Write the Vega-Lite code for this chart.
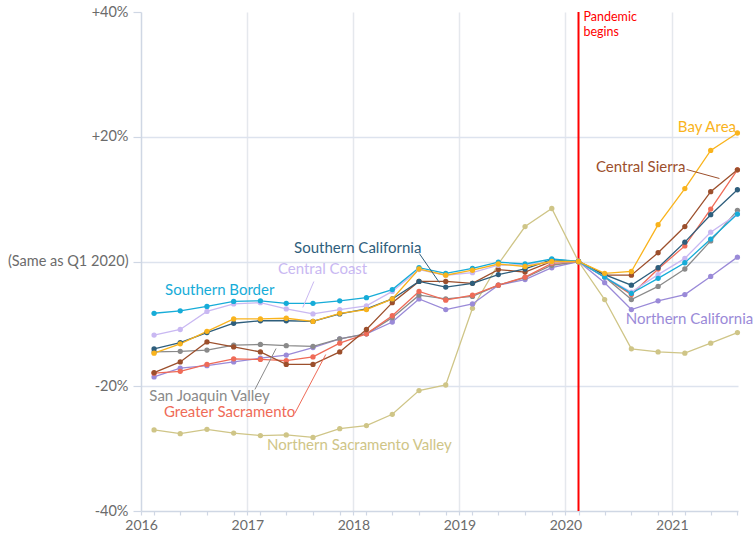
{
  "$schema": "https://vega.github.io/schema/vega-lite/v6.json",
  "width": 597,
  "height": 499,
  "autosize": {"type": "none"},
  "padding": {"left": 141, "top": 12, "right": 17, "bottom": 26},
  "background": "white",
  "config": {"font": "Lato", "view": {"stroke": null}},
  "datasets": {
    "series": [
      {"region":"Northern Sacramento Valley","date":"2016-02-15","value":-27.0},
      {"region":"Northern Sacramento Valley","date":"2016-05-15","value":-27.6},
      {"region":"Northern Sacramento Valley","date":"2016-08-15","value":-26.9},
      {"region":"Northern Sacramento Valley","date":"2016-11-15","value":-27.5},
      {"region":"Northern Sacramento Valley","date":"2017-02-15","value":-27.9},
      {"region":"Northern Sacramento Valley","date":"2017-05-15","value":-27.8},
      {"region":"Northern Sacramento Valley","date":"2017-08-15","value":-28.2},
      {"region":"Northern Sacramento Valley","date":"2017-11-15","value":-26.8},
      {"region":"Northern Sacramento Valley","date":"2018-02-15","value":-26.3},
      {"region":"Northern Sacramento Valley","date":"2018-05-15","value":-24.5},
      {"region":"Northern Sacramento Valley","date":"2018-08-15","value":-20.7},
      {"region":"Northern Sacramento Valley","date":"2018-11-15","value":-19.8},
      {"region":"Northern Sacramento Valley","date":"2019-02-15","value":-7.5},
      {"region":"Northern Sacramento Valley","date":"2019-05-15","value":-0.4},
      {"region":"Northern Sacramento Valley","date":"2019-08-15","value":5.6},
      {"region":"Northern Sacramento Valley","date":"2019-11-15","value":8.5},
      {"region":"Northern Sacramento Valley","date":"2020-02-15","value":0},
      {"region":"Northern Sacramento Valley","date":"2020-05-15","value":-6.1},
      {"region":"Northern Sacramento Valley","date":"2020-08-15","value":-14.0},
      {"region":"Northern Sacramento Valley","date":"2020-11-15","value":-14.5},
      {"region":"Northern Sacramento Valley","date":"2021-02-15","value":-14.7},
      {"region":"Northern Sacramento Valley","date":"2021-05-15","value":-13.1},
      {"region":"Northern Sacramento Valley","date":"2021-08-15","value":-11.4},

      {"region":"Northern California","date":"2016-02-15","value":-18.5},
      {"region":"Northern California","date":"2016-05-15","value":-17.1},
      {"region":"Northern California","date":"2016-08-15","value":-16.7},
      {"region":"Northern California","date":"2016-11-15","value":-16.1},
      {"region":"Northern California","date":"2017-02-15","value":-15.5},
      {"region":"Northern California","date":"2017-05-15","value":-15.0},
      {"region":"Northern California","date":"2017-08-15","value":-13.8},
      {"region":"Northern California","date":"2017-11-15","value":-12.4},
      {"region":"Northern California","date":"2018-02-15","value":-11.6},
      {"region":"Northern California","date":"2018-05-15","value":-9.7},
      {"region":"Northern California","date":"2018-08-15","value":-6.0},
      {"region":"Northern California","date":"2018-11-15","value":-7.7},
      {"region":"Northern California","date":"2019-02-15","value":-6.8},
      {"region":"Northern California","date":"2019-05-15","value":-3.8},
      {"region":"Northern California","date":"2019-08-15","value":-2.9},
      {"region":"Northern California","date":"2019-11-15","value":-1.0},
      {"region":"Northern California","date":"2020-02-15","value":0},
      {"region":"Northern California","date":"2020-05-15","value":-3.4},
      {"region":"Northern California","date":"2020-08-15","value":-7.7},
      {"region":"Northern California","date":"2020-11-15","value":-6.3},
      {"region":"Northern California","date":"2021-02-15","value":-5.3},
      {"region":"Northern California","date":"2021-05-15","value":-2.4},
      {"region":"Northern California","date":"2021-08-15","value":0.7},

      {"region":"San Joaquin Valley","date":"2016-02-15","value":-14.5},
      {"region":"San Joaquin Valley","date":"2016-05-15","value":-14.4},
      {"region":"San Joaquin Valley","date":"2016-08-15","value":-14.2},
      {"region":"San Joaquin Valley","date":"2016-11-15","value":-13.4},
      {"region":"San Joaquin Valley","date":"2017-02-15","value":-13.3},
      {"region":"San Joaquin Valley","date":"2017-05-15","value":-13.5},
      {"region":"San Joaquin Valley","date":"2017-08-15","value":-13.6},
      {"region":"San Joaquin Valley","date":"2017-11-15","value":-12.4},
      {"region":"San Joaquin Valley","date":"2018-02-15","value":-11.6},
      {"region":"San Joaquin Valley","date":"2018-05-15","value":-9.0},
      {"region":"San Joaquin Valley","date":"2018-08-15","value":-5.4},
      {"region":"San Joaquin Valley","date":"2018-11-15","value":-6.0},
      {"region":"San Joaquin Valley","date":"2019-02-15","value":-5.6},
      {"region":"San Joaquin Valley","date":"2019-05-15","value":-3.8},
      {"region":"San Joaquin Valley","date":"2019-08-15","value":-2.6},
      {"region":"San Joaquin Valley","date":"2019-11-15","value":-0.6},
      {"region":"San Joaquin Valley","date":"2020-02-15","value":0},
      {"region":"San Joaquin Valley","date":"2020-05-15","value":-2.5},
      {"region":"San Joaquin Valley","date":"2020-08-15","value":-6.1},
      {"region":"San Joaquin Valley","date":"2020-11-15","value":-4.0},
      {"region":"San Joaquin Valley","date":"2021-02-15","value":-1.2},
      {"region":"San Joaquin Valley","date":"2021-05-15","value":3.3},
      {"region":"San Joaquin Valley","date":"2021-08-15","value":8.2},

      {"region":"Greater Sacramento","date":"2016-02-15","value":-17.9},
      {"region":"Greater Sacramento","date":"2016-05-15","value":-17.6},
      {"region":"Greater Sacramento","date":"2016-08-15","value":-16.5},
      {"region":"Greater Sacramento","date":"2016-11-15","value":-15.6},
      {"region":"Greater Sacramento","date":"2017-02-15","value":-15.7},
      {"region":"Greater Sacramento","date":"2017-05-15","value":-15.9},
      {"region":"Greater Sacramento","date":"2017-08-15","value":-15.3},
      {"region":"Greater Sacramento","date":"2017-11-15","value":-13.1},
      {"region":"Greater Sacramento","date":"2018-02-15","value":-11.6},
      {"region":"Greater Sacramento","date":"2018-05-15","value":-8.7},
      {"region":"Greater Sacramento","date":"2018-08-15","value":-4.8},
      {"region":"Greater Sacramento","date":"2018-11-15","value":-6.2},
      {"region":"Greater Sacramento","date":"2019-02-15","value":-5.4},
      {"region":"Greater Sacramento","date":"2019-05-15","value":-3.8},
      {"region":"Greater Sacramento","date":"2019-08-15","value":-2.5},
      {"region":"Greater Sacramento","date":"2019-11-15","value":-0.3},
      {"region":"Greater Sacramento","date":"2020-02-15","value":0},
      {"region":"Greater Sacramento","date":"2020-05-15","value":-2.5},
      {"region":"Greater Sacramento","date":"2020-08-15","value":-5.3},
      {"region":"Greater Sacramento","date":"2020-11-15","value":-1.2},
      {"region":"Greater Sacramento","date":"2021-02-15","value":2.5},
      {"region":"Greater Sacramento","date":"2021-05-15","value":8.4},
      {"region":"Greater Sacramento","date":"2021-08-15","value":14.7},

      {"region":"Central Sierra","date":"2016-02-15","value":-17.8},
      {"region":"Central Sierra","date":"2016-05-15","value":-16.1},
      {"region":"Central Sierra","date":"2016-08-15","value":-12.9},
      {"region":"Central Sierra","date":"2016-11-15","value":-13.7},
      {"region":"Central Sierra","date":"2017-02-15","value":-14.5},
      {"region":"Central Sierra","date":"2017-05-15","value":-16.5},
      {"region":"Central Sierra","date":"2017-08-15","value":-16.5},
      {"region":"Central Sierra","date":"2017-11-15","value":-14.5},
      {"region":"Central Sierra","date":"2018-02-15","value":-10.9},
      {"region":"Central Sierra","date":"2018-05-15","value":-6.6},
      {"region":"Central Sierra","date":"2018-08-15","value":-3.2},
      {"region":"Central Sierra","date":"2018-11-15","value":-3.2},
      {"region":"Central Sierra","date":"2019-02-15","value":-3.5},
      {"region":"Central Sierra","date":"2019-05-15","value":-1.3},
      {"region":"Central Sierra","date":"2019-08-15","value":-1.7},
      {"region":"Central Sierra","date":"2019-11-15","value":0.0},
      {"region":"Central Sierra","date":"2020-02-15","value":0},
      {"region":"Central Sierra","date":"2020-05-15","value":-2.2},
      {"region":"Central Sierra","date":"2020-08-15","value":-2.2},
      {"region":"Central Sierra","date":"2020-11-15","value":1.4},
      {"region":"Central Sierra","date":"2021-02-15","value":5.6},
      {"region":"Central Sierra","date":"2021-05-15","value":11.2},
      {"region":"Central Sierra","date":"2021-08-15","value":14.7},

      {"region":"Southern California","date":"2016-02-15","value":-14.0},
      {"region":"Southern California","date":"2016-05-15","value":-13.0},
      {"region":"Southern California","date":"2016-08-15","value":-11.4},
      {"region":"Southern California","date":"2016-11-15","value":-9.9},
      {"region":"Southern California","date":"2017-02-15","value":-9.5},
      {"region":"Southern California","date":"2017-05-15","value":-9.5},
      {"region":"Southern California","date":"2017-08-15","value":-9.6},
      {"region":"Southern California","date":"2017-11-15","value":-8.4},
      {"region":"Southern California","date":"2018-02-15","value":-7.6},
      {"region":"Southern California","date":"2018-05-15","value":-6.0},
      {"region":"Southern California","date":"2018-08-15","value":-3.2},
      {"region":"Southern California","date":"2018-11-15","value":-4.1},
      {"region":"Southern California","date":"2019-02-15","value":-3.5},
      {"region":"Southern California","date":"2019-05-15","value":-2.1},
      {"region":"Southern California","date":"2019-08-15","value":-1.2},
      {"region":"Southern California","date":"2019-11-15","value":0.3},
      {"region":"Southern California","date":"2020-02-15","value":0},
      {"region":"Southern California","date":"2020-05-15","value":-2.1},
      {"region":"Southern California","date":"2020-08-15","value":-3.8},
      {"region":"Southern California","date":"2020-11-15","value":-1.0},
      {"region":"Southern California","date":"2021-02-15","value":3.1},
      {"region":"Southern California","date":"2021-05-15","value":7.5},
      {"region":"Southern California","date":"2021-08-15","value":11.5},

      {"region":"Central Coast","date":"2016-02-15","value":-11.8},
      {"region":"Central Coast","date":"2016-05-15","value":-10.9},
      {"region":"Central Coast","date":"2016-08-15","value":-8.0},
      {"region":"Central Coast","date":"2016-11-15","value":-6.8},
      {"region":"Central Coast","date":"2017-02-15","value":-6.6},
      {"region":"Central Coast","date":"2017-05-15","value":-7.6},
      {"region":"Central Coast","date":"2017-08-15","value":-8.4},
      {"region":"Central Coast","date":"2017-11-15","value":-7.7},
      {"region":"Central Coast","date":"2018-02-15","value":-7.1},
      {"region":"Central Coast","date":"2018-05-15","value":-4.8},
      {"region":"Central Coast","date":"2018-08-15","value":-1.3},
      {"region":"Central Coast","date":"2018-11-15","value":-2.2},
      {"region":"Central Coast","date":"2019-02-15","value":-1.8},
      {"region":"Central Coast","date":"2019-05-15","value":-0.6},
      {"region":"Central Coast","date":"2019-08-15","value":-0.5},
      {"region":"Central Coast","date":"2019-11-15","value":-0.1},
      {"region":"Central Coast","date":"2020-02-15","value":0},
      {"region":"Central Coast","date":"2020-05-15","value":-2.5},
      {"region":"Central Coast","date":"2020-08-15","value":-4.9},
      {"region":"Central Coast","date":"2020-11-15","value":-2.1},
      {"region":"Central Coast","date":"2021-02-15","value":0.5},
      {"region":"Central Coast","date":"2021-05-15","value":4.7},
      {"region":"Central Coast","date":"2021-08-15","value":7.6},

      {"region":"Southern Border","date":"2016-02-15","value":-8.3},
      {"region":"Southern Border","date":"2016-05-15","value":-7.9},
      {"region":"Southern Border","date":"2016-08-15","value":-7.2},
      {"region":"Southern Border","date":"2016-11-15","value":-6.4},
      {"region":"Southern Border","date":"2017-02-15","value":-6.3},
      {"region":"Southern Border","date":"2017-05-15","value":-6.7},
      {"region":"Southern Border","date":"2017-08-15","value":-6.7},
      {"region":"Southern Border","date":"2017-11-15","value":-6.3},
      {"region":"Southern Border","date":"2018-02-15","value":-5.8},
      {"region":"Southern Border","date":"2018-05-15","value":-4.5},
      {"region":"Southern Border","date":"2018-08-15","value":-1.0},
      {"region":"Southern Border","date":"2018-11-15","value":-1.9},
      {"region":"Southern Border","date":"2019-02-15","value":-1.1},
      {"region":"Southern Border","date":"2019-05-15","value":-0.1},
      {"region":"Southern Border","date":"2019-08-15","value":-0.4},
      {"region":"Southern Border","date":"2019-11-15","value":0.4},
      {"region":"Southern Border","date":"2020-02-15","value":0},
      {"region":"Southern Border","date":"2020-05-15","value":-2.5},
      {"region":"Southern Border","date":"2020-08-15","value":-5.1},
      {"region":"Southern Border","date":"2020-11-15","value":-2.7},
      {"region":"Southern Border","date":"2021-02-15","value":-0.2},
      {"region":"Southern Border","date":"2021-05-15","value":3.6},
      {"region":"Southern Border","date":"2021-08-15","value":7.6},

      {"region":"Bay Area","date":"2016-02-15","value":-14.7},
      {"region":"Bay Area","date":"2016-05-15","value":-13.2},
      {"region":"Bay Area","date":"2016-08-15","value":-11.2},
      {"region":"Bay Area","date":"2016-11-15","value":-9.2},
      {"region":"Bay Area","date":"2017-02-15","value":-9.2},
      {"region":"Bay Area","date":"2017-05-15","value":-9.1},
      {"region":"Bay Area","date":"2017-08-15","value":-9.6},
      {"region":"Bay Area","date":"2017-11-15","value":-8.3},
      {"region":"Bay Area","date":"2018-02-15","value":-7.7},
      {"region":"Bay Area","date":"2018-05-15","value":-6.0},
      {"region":"Bay Area","date":"2018-08-15","value":-1.2},
      {"region":"Bay Area","date":"2018-11-15","value":-2.2},
      {"region":"Bay Area","date":"2019-02-15","value":-1.4},
      {"region":"Bay Area","date":"2019-05-15","value":-0.4},
      {"region":"Bay Area","date":"2019-08-15","value":-0.8},
      {"region":"Bay Area","date":"2019-11-15","value":0.0},
      {"region":"Bay Area","date":"2020-02-15","value":0},
      {"region":"Bay Area","date":"2020-05-15","value":-1.9},
      {"region":"Bay Area","date":"2020-08-15","value":-1.6},
      {"region":"Bay Area","date":"2020-11-15","value":5.9},
      {"region":"Bay Area","date":"2021-02-15","value":11.7},
      {"region":"Bay Area","date":"2021-05-15","value":17.8},
      {"region":"Bay Area","date":"2021-08-15","value":20.6}
    ],
    "labels": [
      {"region":"Southern California","label":"Southern California","date":"2018-01-16","value":1.33},
      {"region":"Central Coast","label":"Central Coast","date":"2017-09-17","value":-1.97},
      {"region":"Southern Border","label":"Southern Border","date":"2016-09-28","value":-5.45},
      {"region":"San Joaquin Valley","label":"San Joaquin Valley","date":"2016-08-24","value":-22.4},
      {"region":"Greater Sacramento","label":"Greater Sacramento","date":"2016-11-01","value":-24.96},
      {"region":"Northern Sacramento Valley","label":"Northern Sacramento Valley","date":"2018-01-22","value":-30.3},
      {"region":"Bay Area","label":"Bay Area","date":"2021-05-02","value":20.84},
      {"region":"Central Sierra","label":"Central Sierra","date":"2020-09-16","value":14.32},
      {"region":"Northern California","label":"Northern California","date":"2021-03-03","value":-10.1}
    ],
    "leaders": [
      {"region":"Southern California","date":"2018-08-16","value":1.28,"date2":"2018-10-24","value2":-3.37},
      {"region":"Central Coast","date":"2017-08-18","value":-3.21,"date2":"2017-07-11","value2":-7.37},
      {"region":"San Joaquin Valley","date":"2017-01-27","value":-20.52,"date2":"2017-04-10","value2":-13.95},
      {"region":"Greater Sacramento","date":"2017-06-13","value":-24.37,"date2":"2017-09-28","value2":-14.91},
      {"region":"Central Sierra","date":"2021-02-21","value":14.75,"date2":"2021-06-14","value2":13.31}
    ],
    "events": [
      {"date":"2020-02-15","label":"Pandemic\nbegins","value":38.5}
    ]
  },
  "layer": [
    {
      "data": {"name": "events"},
      "mark": {"type": "rule", "color": "#ff0000", "strokeWidth": 2},
      "encoding": {
        "x": {
          "field": "date", "type": "temporal", "title": null,
          "scale": {"type": "utc", "domain": [{"year":2016,"month":1,"date":1,"utc":true},{"year":2021,"month":8,"date":17,"utc":true}]},
          "axis": {
            "title": null,
            "tickCount": 200,
            "values": [
              {"year":2016,"month":1,"date":1,"utc":true},{"year":2016,"month":2,"date":15,"utc":true},{"year":2016,"month":5,"date":15,"utc":true},{"year":2016,"month":8,"date":15,"utc":true},{"year":2016,"month":11,"date":15,"utc":true},
              {"year":2017,"month":1,"date":1,"utc":true},{"year":2017,"month":2,"date":15,"utc":true},{"year":2017,"month":5,"date":15,"utc":true},{"year":2017,"month":8,"date":15,"utc":true},{"year":2017,"month":11,"date":15,"utc":true},
              {"year":2018,"month":1,"date":1,"utc":true},{"year":2018,"month":2,"date":15,"utc":true},{"year":2018,"month":5,"date":15,"utc":true},{"year":2018,"month":8,"date":15,"utc":true},{"year":2018,"month":11,"date":15,"utc":true},
              {"year":2019,"month":1,"date":1,"utc":true},{"year":2019,"month":2,"date":15,"utc":true},{"year":2019,"month":5,"date":15,"utc":true},{"year":2019,"month":8,"date":15,"utc":true},{"year":2019,"month":11,"date":15,"utc":true},
              {"year":2020,"month":1,"date":1,"utc":true},{"year":2020,"month":2,"date":15,"utc":true},{"year":2020,"month":5,"date":15,"utc":true},{"year":2020,"month":8,"date":15,"utc":true},{"year":2020,"month":11,"date":15,"utc":true},
              {"year":2021,"month":1,"date":1,"utc":true},{"year":2021,"month":2,"date":15,"utc":true},{"year":2021,"month":5,"date":15,"utc":true},{"year":2021,"month":8,"date":15,"utc":true}
            ],
            "labelExpr": "utcdate(datum.value) == 1 ? utcFormat(datum.value, '%Y') : ''",
            "labelOverlap": false,
            "labelBound": false,
            "labelFlush": false,
            "labelFontSize": 14,
            "labelColor": "#6b6b6b",
            "labelPadding": 3,
            "tickSize": 4,
            "tickColor": "#cfd7e4",
            "tickWidth": 1.2,
            "domainColor": "#cfd7e4",
            "domainWidth": 1.5,
            "grid": true,
            "gridColor": "#e5e8ed",
            "gridWidth": 1.5,
            "gridOpacity": {"condition": {"test": "utcdate(datum.value) == 1 && utcyear(datum.value) > 2016", "value": 1}, "value": 0}
          }
        }
      }
    },
    {
      "data": {"name": "series"},
      "mark": {"type": "line", "strokeWidth": 1.3, "point": {"filled": true, "size": 28, "opacity": 1}},
      "encoding": {
        "x": {"field": "date", "type": "temporal", "title": null},
        "y": {
          "field": "value", "type": "quantitative", "title": null,
          "scale": {"domain": [-40, 40], "nice": false},
          "axis": {
            "title": null,
            "values": [-40, -20, 0, 20, 40],
            "labelExpr": "datum.value == 0 ? '(Same as Q1 2020)' : (datum.value > 0 ? '+' + datum.value + '%' : datum.value + '%')",
            "labelFontSize": 14.5,
            "labelColor": "#6b6b6b",
            "labelPadding": 5,
            "tickSize": 8,
            "tickColor": "#cfd7e4",
            "tickWidth": 1.2,
            "domainColor": "#cfd7e4",
            "domainWidth": 1.5,
            "grid": true,
            "gridColor": "#dde3ee",
            "gridWidth": 1.5,
            "gridOpacity": {"condition": {"test": "abs(datum.value) == 40", "value": 0}, "value": 1}
          }
        },
        "color": {
          "field": "region", "type": "nominal", "legend": null,
          "scale": {
            "domain": ["Northern Sacramento Valley","Northern California","San Joaquin Valley","Greater Sacramento","Central Sierra","Southern California","Central Coast","Southern Border","Bay Area"],
            "range": ["#cfc587","#9a8ad8","#8a8a8a","#ef6b57","#9c4f2c","#2e5e7c","#c9b8f2","#16acd8","#f9b31c"]
          }
        }
      }
    },
    {
      "data": {"name": "leaders"},
      "mark": {"type": "rule", "strokeWidth": 1},
      "encoding": {
        "x": {"field": "date", "type": "temporal", "title": null},
        "x2": {"field": "date2"},
        "y": {"field": "value", "type": "quantitative", "title": null},
        "y2": {"field": "value2"},
        "color": {"field": "region", "type": "nominal", "legend": null}
      }
    },
    {
      "data": {"name": "labels"},
      "mark": {"type": "text", "align": "center", "baseline": "alphabetic", "fontSize": 15},
      "encoding": {
        "x": {"field": "date", "type": "temporal", "title": null},
        "y": {"field": "value", "type": "quantitative", "title": null},
        "text": {"field": "label"},
        "color": {"field": "region", "type": "nominal", "legend": null}
      }
    },
    {
      "data": {"name": "events"},
      "mark": {"type": "text", "align": "left", "baseline": "alphabetic", "dx": 5, "fontSize": 12.5, "color": "#ff0000", "lineBreak": "\n", "lineHeight": 15},
      "encoding": {
        "x": {"field": "date", "type": "temporal", "title": null},
        "y": {"field": "value", "type": "quantitative", "title": null},
        "text": {"field": "label"}
      }
    }
  ]
}
